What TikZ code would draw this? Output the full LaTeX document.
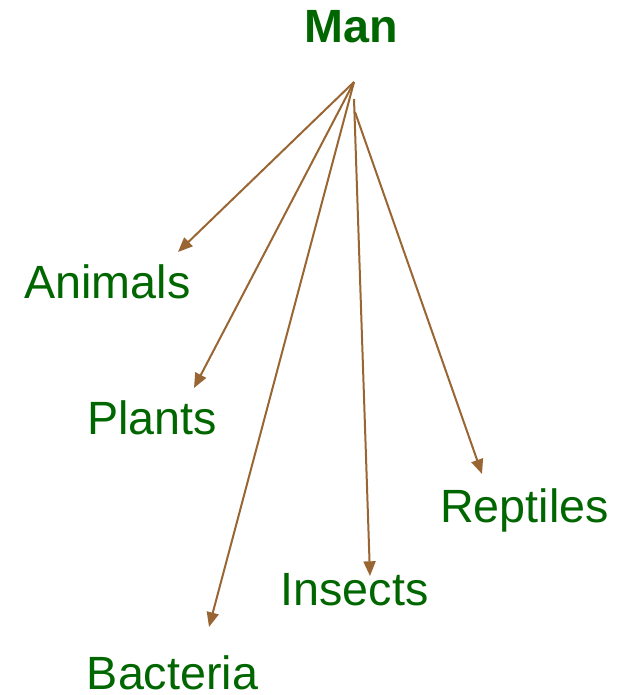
\documentclass[tikz,border=0pt]{standalone}
\usepackage{fontspec}
\setmainfont{Liberation Sans}
\usetikzlibrary{arrows.meta}
\definecolor{TreeGreen}{HTML}{006600}
\definecolor{TreeBrown}{HTML}{996633}

\begin{document}
\begin{tikzpicture}[
  x=0.75pt,y=-0.75pt,
  lbl/.style={inner sep=0pt,anchor=base,text=TreeGreen,font=\fontsize{35}{42}\selectfont},
  arr/.style={-{Triangle[length=11pt,width=9pt]},line width=1.5pt,TreeBrown},
]
\useasboundingbox (0,0) rectangle (627,695);
\node[lbl,font=\fontsize{35}{42}\selectfont\bfseries] (man) at (351.5,43) {Man};
\node[lbl] (animals) at (107.5,298) {Animals};
\node[lbl] (plants) at (152,434) {Plants};
\node[lbl] (bacteria) at (172.5,689) {Bacteria};
\node[lbl] (insects) at (354.5,605) {Insects};
\node[lbl] (reptiles) at (524.5,522) {Reptiles};
\coordinate (top) at (354,82);
\coordinate (top2) at (354,99);
\coordinate (top3) at (355,112);
\coordinate (animalsTip) at (178,252);
\coordinate (plantsTip) at (194,388);
\coordinate (bacteriaTip) at (209,627);
\coordinate (insectsTip) at (370,576);
\coordinate (reptilesTip) at (482,474);
\draw[arr] (top) -- (animalsTip);
\draw[arr] (top) -- (plantsTip);
\draw[arr] (top) -- (bacteriaTip);
\draw[arr] (top2) -- (insectsTip);
\draw[arr] (top3) -- (reptilesTip);
\end{tikzpicture}
\end{document}
